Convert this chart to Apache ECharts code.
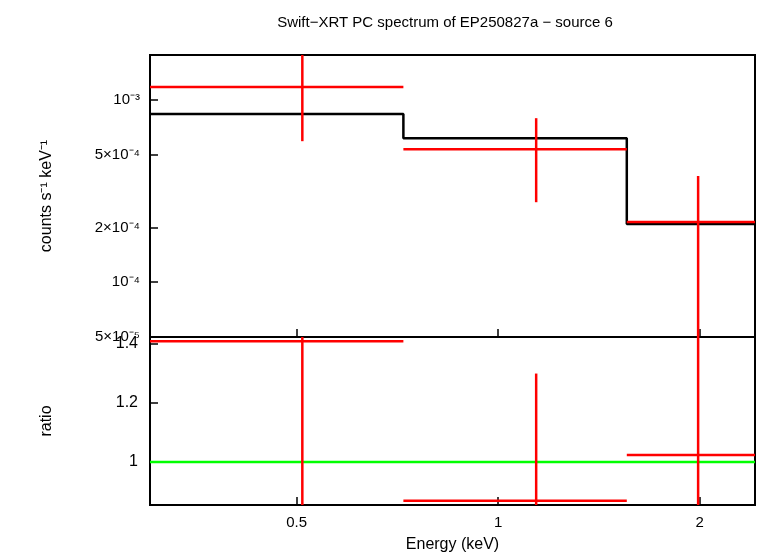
<!DOCTYPE html><html><head><meta charset="utf-8">
<script src="https://cdn.jsdelivr.net/npm/echarts@6/dist/echarts.min.js"></script>
<style>body{margin:0}#c{width:758px;height:556px}</style></head><body><div id="c"></div><script>
const binEdges=[0.302,0.722,1.557,2.42];
const binCenters=[0.51,1.14,1.99];
const rate=[1.18e-3,5.38e-4,2.14e-4];
const rateLo=[5.95e-4,2.75e-4,1e-6];
const rateHi=[1.77e-3,7.96e-4,3.83e-4];
const model=[8.38e-4,6.18e-4,2.09e-4];
const ratio=[1.41,0.868,1.024];
const ratioLo=[0.5,0.5,0.5];
const ratioHi=[2.3,1.30,2.3];
const topTicks=[5e-5,1e-4,2e-4,5e-4,1e-3];
const topLabels={5e-5:'5×10⁻⁵',1e-4:'10⁻⁴',2e-4:'2×10⁻⁴',5e-4:'5×10⁻⁴',1e-3:'10⁻³'};
const xTicks=[0.5,1,2];
const ratioTicks=[1,1.2,1.4];

const font='Liberation Sans';
const step=[];model.forEach((v,i)=>{step.push([binEdges[i],v],[binEdges[i+1],v]);});
const rows=(y,lo,hi)=>y.map((v,i)=>[binEdges[i],binEdges[i+1],binCenters[i],v,lo[i],hi[i]]);
function errItem(params,api){
  const x0=api.coord([api.value(0),api.value(3)]),x1=api.coord([api.value(1),api.value(3)]);
  const a=api.coord([api.value(2),api.value(4)]),b=api.coord([api.value(2),api.value(5)]);
  const st={stroke:'#ff0000',lineWidth:2.5};
  return {type:'group',children:[
    {type:'line',shape:{x1:x0[0],y1:x0[1],x2:x1[0],y2:x1[1]},style:st},
    {type:'line',shape:{x1:a[0],y1:a[1],x2:b[0],y2:b[1]},style:st}],
    clipPath:{type:'rect',shape:params.coordSys}};
}
const axLine={show:false};
const chart=echarts.init(document.getElementById('c'));
chart.setOption({
  animation:false,
  title:{text:'Swift−XRT PC spectrum of EP250827a − source 6',left:440,top:10,textAlign:'center',textStyle:{fontFamily:font,fontSize:15,fontWeight:'normal',color:'#000'}},
  grid:[{left:150,right:3,top:55,height:282,show:true,borderColor:'#000',borderWidth:2,backgroundColor:'transparent'},
        {left:150,right:3,top:337,height:168,show:true,borderColor:'#000',borderWidth:2,backgroundColor:'transparent'}],
  xAxis:[
    {type:'log',gridIndex:0,min:0.302,max:2.42,axisLine:axLine,splitLine:{show:false},axisLabel:{show:false},
     axisTick:{inside:true,length:8,lineStyle:{color:'#000',width:1.5},customValues:xTicks}},
    {type:'log',gridIndex:1,min:0.302,max:2.42,axisLine:axLine,splitLine:{show:false},
     axisLabel:{customValues:xTicks,fontFamily:font,fontSize:15,color:'#000',margin:10},
     axisTick:{inside:true,length:8,lineStyle:{color:'#000',width:1.5},customValues:xTicks},
     name:'Energy (keV)',nameLocation:'middle',nameGap:32,nameTextStyle:{fontFamily:font,fontSize:16,color:'#000'}}],
  yAxis:[
    {type:'log',gridIndex:0,min:5e-5,max:1.77e-3,axisLine:axLine,splitLine:{show:false},
     axisLabel:{customValues:topTicks,formatter:v=>{for(const k of topTicks){if(Math.abs(v/k-1)<1e-3)return topLabels[k];}return '';},fontFamily:font,fontSize:15,color:'#000',margin:10},
     axisTick:{inside:true,length:8,lineStyle:{color:'#000',width:1.5},customValues:topTicks},
     name:'counts s⁻¹ keV⁻¹',nameLocation:'middle',nameGap:95,nameTextStyle:{fontFamily:font,fontSize:16,color:'#000'}},
    {type:'value',gridIndex:1,min:0.854,max:1.424,axisLine:axLine,splitLine:{show:false},
     axisLabel:{customValues:ratioTicks,formatter:v=>Math.abs(v-1)<1e-6?'1':v.toFixed(1),fontFamily:font,fontSize:16,color:'#000',margin:12},
     axisTick:{inside:true,length:8,lineStyle:{color:'#000',width:1.5},customValues:ratioTicks},
     name:'ratio',nameLocation:'middle',nameGap:95,nameTextStyle:{fontFamily:font,fontSize:16,color:'#000'}}],
  series:[
    {type:'line',xAxisIndex:0,yAxisIndex:0,data:step,showSymbol:false,lineStyle:{color:'#000',width:2.5},z:3},
    {type:'custom',xAxisIndex:0,yAxisIndex:0,data:rows(rate,rateLo,rateHi),renderItem:errItem,z:4},
    {type:'line',xAxisIndex:1,yAxisIndex:1,data:[[0.302,1],[2.42,1]],showSymbol:false,lineStyle:{color:'#00ff00',width:2.5},z:3},
    {type:'custom',xAxisIndex:1,yAxisIndex:1,data:rows(ratio,ratioLo,ratioHi),renderItem:errItem,z:4}
  ]
});
</script></body></html>
